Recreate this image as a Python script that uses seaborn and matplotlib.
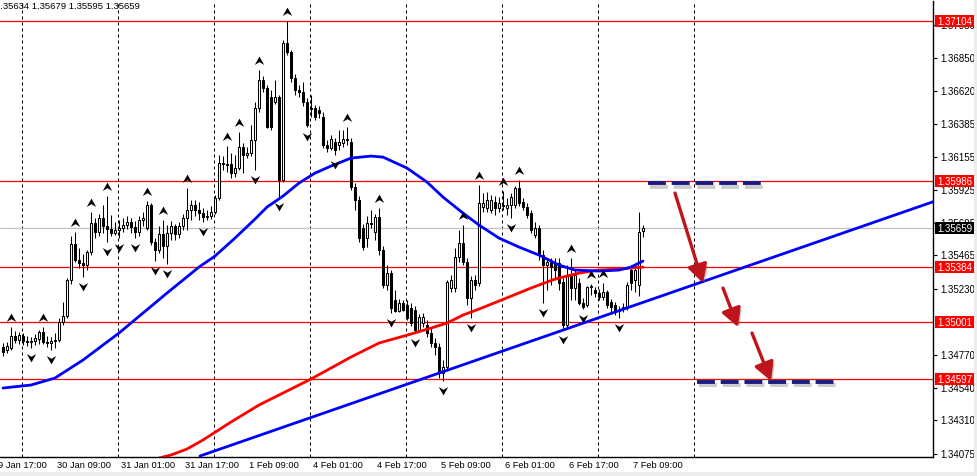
import numpy as np
import pandas as pd
import matplotlib
matplotlib.use("Agg")
import matplotlib.pyplot as plt
import seaborn as sns
from matplotlib.path import Path
import matplotlib.patheffects as pe
import matplotlib.transforms as mtransforms
from matplotlib.patches import Rectangle

sns.set_style("white")
plt.rcParams["font.family"] = ["Liberation Sans", "DejaVu Sans"]

# ---------------- data (EURUSD H1, bar index 0 = 29 Jan 19:00) ----------------
open_ = [1.34824, 1.34803, 1.34817, 1.34901, 1.34873, 1.34901, 1.34866, 1.34859, 1.34866, 1.34880,
         1.34929, 1.34859, 1.34852, 1.34866, 1.34873, 1.34999, 1.35041, 1.35293, 1.35545, 1.35433,
         1.35412, 1.35398, 1.35489, 1.35692, 1.35629, 1.35727, 1.35671, 1.35650, 1.35622, 1.35643,
         1.35657, 1.35678, 1.35699, 1.35664, 1.35629, 1.35713, 1.35657, 1.35818, 1.35559, 1.35503,
         1.35615, 1.35531, 1.35622, 1.35671, 1.35615, 1.35671, 1.35727, 1.35783, 1.35818, 1.35783,
         1.35762, 1.35734, 1.35741, 1.35769, 1.35867, 1.36112, 1.36105, 1.36105, 1.36042, 1.36077,
         1.36224, 1.36168, 1.36182, 1.36273, 1.36497, 1.36693, 1.36637, 1.36574, 1.36539, 1.36574,
         1.35993, 1.36952, 1.36889, 1.36707, 1.36623, 1.36609, 1.36539, 1.36497, 1.36497, 1.36483,
         1.36434, 1.36238, 1.36217, 1.36259, 1.36238, 1.36252, 1.36280, 1.36259, 1.35944, 1.35853,
         1.35657, 1.35587, 1.35692, 1.35629, 1.35734, 1.35503, 1.35258, 1.35342, 1.35153, 1.35076,
         1.35132, 1.35118, 1.35097, 1.35083, 1.34943, 1.34992, 1.34978, 1.34922, 1.34852, 1.34824,
         1.34642, 1.34684, 1.35237, 1.35237, 1.35454, 1.35552, 1.35419, 1.35167, 1.35293, 1.35272,
         1.35804, 1.35797, 1.35783, 1.35839, 1.35797, 1.35818, 1.35797, 1.35818, 1.35818, 1.35937,
         1.35839, 1.35804, 1.35762, 1.35608, 1.35657, 1.35468, 1.35398, 1.35419, 1.35412, 1.35412,
         1.35279, 1.34978, 1.35328, 1.35237, 1.35272, 1.35132, 1.35118, 1.35244, 1.35223, 1.35202,
         1.35174, 1.35209, 1.35139, 1.35118, 1.35083, 1.35097, 1.35104, 1.35363, 1.35293, 1.35258,
         1.35634]
high = [1.34852, 1.34859, 1.34964, 1.34936, 1.34929, 1.34922, 1.34901, 1.34894, 1.34915, 1.34943,
        1.34964, 1.34901, 1.34894, 1.34922, 1.35027, 1.35139, 1.35307, 1.35601, 1.35629, 1.35517,
        1.35475, 1.35503, 1.35769, 1.35727, 1.35755, 1.35818, 1.35881, 1.35748, 1.35699, 1.35713,
        1.35727, 1.35741, 1.35727, 1.35706, 1.35741, 1.35769, 1.35846, 1.35832, 1.35587, 1.35671,
        1.35713, 1.35678, 1.35706, 1.35685, 1.35699, 1.35755, 1.35937, 1.35853, 1.35853, 1.35839,
        1.35797, 1.35783, 1.35811, 1.35888, 1.36168, 1.36161, 1.36231, 1.36182, 1.36168, 1.36329,
        1.36252, 1.36224, 1.36378, 1.36539, 1.36763, 1.36721, 1.36658, 1.36623, 1.36693, 1.36588,
        1.36973, 1.37104, 1.36903, 1.36735, 1.36658, 1.36679, 1.36567, 1.36588, 1.36518, 1.36511,
        1.36469, 1.36273, 1.36308, 1.36287, 1.36343, 1.36343, 1.36364, 1.36287, 1.35972, 1.35881,
        1.35685, 1.35741, 1.35783, 1.35755, 1.35797, 1.35531, 1.35398, 1.35363, 1.35223, 1.35160,
        1.35153, 1.35153, 1.35132, 1.35111, 1.35055, 1.35062, 1.35013, 1.34957, 1.34887, 1.34852,
        1.34733, 1.35293, 1.35328, 1.35517, 1.35643, 1.35678, 1.35447, 1.35321, 1.35328, 1.35958,
        1.35902, 1.35909, 1.35888, 1.35881, 1.35874, 1.35916, 1.35867, 1.35902, 1.35951, 1.35993,
        1.35867, 1.35832, 1.35783, 1.35699, 1.35678, 1.35503, 1.35447, 1.35447, 1.35447, 1.35447,
        1.35307, 1.35398, 1.35447, 1.35363, 1.35307, 1.35167, 1.35251, 1.35265, 1.35244, 1.35230,
        1.35272, 1.35223, 1.35160, 1.35139, 1.35111, 1.35132, 1.35279, 1.35398, 1.35398, 1.35769,
        1.35679]
low = [1.34761, 1.34782, 1.34803, 1.34852, 1.34845, 1.34838, 1.34831, 1.34817, 1.34838, 1.34845,
       1.34845, 1.34824, 1.34803, 1.34817, 1.34859, 1.34978, 1.35027, 1.35265, 1.35419, 1.35377,
       1.35314, 1.35363, 1.35468, 1.35587, 1.35601, 1.35622, 1.35559, 1.35601, 1.35608, 1.35587,
       1.35629, 1.35650, 1.35622, 1.35587, 1.35601, 1.35671, 1.35643, 1.35538, 1.35426, 1.35482,
       1.35447, 1.35405, 1.35573, 1.35573, 1.35587, 1.35643, 1.35643, 1.35713, 1.35741, 1.35713,
       1.35699, 1.35713, 1.35720, 1.35755, 1.35853, 1.36063, 1.36049, 1.36007, 1.36014, 1.36063,
       1.36042, 1.36147, 1.36161, 1.36063, 1.36469, 1.36609, 1.36357, 1.36343, 1.36525, 1.35874,
       1.35979, 1.36868, 1.36679, 1.36588, 1.36574, 1.36511, 1.36364, 1.36434, 1.36413, 1.36427,
       1.36217, 1.36189, 1.36203, 1.36168, 1.36203, 1.36224, 1.36238, 1.35923, 1.35783, 1.35559,
       1.35503, 1.35524, 1.35657, 1.35573, 1.35468, 1.35237, 1.35223, 1.35062, 1.35069, 1.35069,
       1.35076, 1.35013, 1.34971, 1.34922, 1.34929, 1.34964, 1.34894, 1.34824, 1.34768, 1.34607,
       1.34586, 1.34663, 1.35209, 1.35209, 1.35419, 1.35398, 1.35118, 1.35027, 1.35223, 1.35251,
       1.35769, 1.35769, 1.35762, 1.35748, 1.35769, 1.35783, 1.35748, 1.35727, 1.35797, 1.35811,
       1.35783, 1.35727, 1.35622, 1.35587, 1.35433, 1.35132, 1.35223, 1.35258, 1.35293, 1.35223,
       1.34943, 1.34957, 1.35153, 1.35153, 1.35118, 1.35090, 1.35104, 1.35188, 1.35174, 1.35153,
       1.35153, 1.35097, 1.35069, 1.35048, 1.35027, 1.35069, 1.35083, 1.35223, 1.35209, 1.35181,
       1.35595]
close = [1.34789, 1.34831, 1.34901, 1.34873, 1.34908, 1.34866, 1.34859, 1.34866, 1.34887, 1.34929,
         1.34859, 1.34852, 1.34866, 1.34873, 1.34999, 1.35041, 1.35293, 1.35545, 1.35433, 1.35412,
         1.35398, 1.35489, 1.35692, 1.35629, 1.35727, 1.35671, 1.35650, 1.35622, 1.35643, 1.35657,
         1.35678, 1.35699, 1.35664, 1.35629, 1.35713, 1.35727, 1.35818, 1.35559, 1.35503, 1.35615,
         1.35531, 1.35622, 1.35671, 1.35615, 1.35671, 1.35727, 1.35783, 1.35818, 1.35783, 1.35762,
         1.35734, 1.35741, 1.35769, 1.35867, 1.36112, 1.36105, 1.36098, 1.36042, 1.36077, 1.36224,
         1.36168, 1.36182, 1.36273, 1.36497, 1.36693, 1.36637, 1.36364, 1.36364, 1.36574, 1.35993,
         1.36952, 1.36889, 1.36707, 1.36623, 1.36609, 1.36539, 1.36378, 1.36490, 1.36434, 1.36462,
         1.36238, 1.36217, 1.36280, 1.36203, 1.36259, 1.36280, 1.36273, 1.35944, 1.35853, 1.35587,
         1.35524, 1.35692, 1.35685, 1.35734, 1.35503, 1.35258, 1.35342, 1.35097, 1.35076, 1.35132,
         1.35083, 1.35027, 1.34992, 1.34943, 1.35034, 1.35034, 1.34922, 1.34852, 1.34824, 1.34642,
         1.34684, 1.35279, 1.35293, 1.35454, 1.35552, 1.35419, 1.35167, 1.35293, 1.35258, 1.35832,
         1.35832, 1.35853, 1.35853, 1.35797, 1.35832, 1.35811, 1.35818, 1.35874, 1.35937, 1.35832,
         1.35804, 1.35748, 1.35643, 1.35657, 1.35468, 1.35398, 1.35419, 1.35384, 1.35363, 1.35272,
         1.34978, 1.35328, 1.35237, 1.35328, 1.35132, 1.35104, 1.35244, 1.35251, 1.35202, 1.35174,
         1.35209, 1.35118, 1.35104, 1.35083, 1.35076, 1.35104, 1.35258, 1.35272, 1.35363, 1.35629,
         1.35659]

up_fractal_bars = [2, 10, 18, 22, 26, 36, 40, 46, 56, 59, 64, 71, 86, 94, 115, 119, 125, 129, 142, 147, 150]
down_fractal_bars = [7, 12, 20, 26, 29, 33, 38, 41, 50, 63, 69, 76, 83, 97, 103, 110, 117, 127, 135, 140, 145, 154]

blue_ma_bars = [0, 7, 13, 20, 29, 41, 49, 53, 58, 63, 66, 70, 74, 78, 82, 87, 92, 95, 101, 106,
                110, 115, 119, 124, 129, 134, 139, 143, 149, 154, 157, 160]
blue_ma = [1.34537, 1.34558, 1.34607, 1.34733, 1.34922, 1.35202, 1.35384, 1.35461, 1.35587, 1.35720,
           1.35804, 1.35881, 1.35972, 1.36042, 1.36091, 1.36147, 1.36161, 1.36154, 1.36077, 1.35979,
           1.35874, 1.35762, 1.35678, 1.35587, 1.35524, 1.35468, 1.35398, 1.35363, 1.35356, 1.35363,
           1.35384, 1.35426]
red_ma_bars = [37, 40, 42, 46, 50, 57, 64, 71, 77, 82, 87, 94, 102, 107, 111, 115, 119, 124, 132,
               138, 144, 149, 154, 160]
red_ma = [1.34030, 1.34054, 1.34068, 1.34110, 1.34173, 1.34299, 1.34418, 1.34516, 1.34600, 1.34677,
          1.34754, 1.34852, 1.34915, 1.34957, 1.34992, 1.35048, 1.35090, 1.35146, 1.35237, 1.35300,
          1.35342, 1.35363, 1.35370, 1.35384]

trend_bars = [49.25, 232.5]
trend_price = [1.34061, 1.35841]

levels = [1.37104, 1.35986, 1.35384, 1.35001, 1.34597]
current_price = 1.35659
ohlc_text = "1.35634 1.35679 1.35595 1.35659"

target_lines = [(161.25, 190.75, 1.35972), (173.5, 208.25, 1.34579)]
arrows = [((168.0, 1.35902), (175.0, 1.35272)),
          ((180.0, 1.35237), (183.75, 1.34964)),
          ((187.25, 1.34922), (192.0, 1.34586))]

ytick_values = [1.34075, 1.34310, 1.34540, 1.34770, 1.35230, 1.35465, 1.35695,
                1.35925, 1.36155, 1.36385, 1.36620, 1.36850, 1.37080]
xtick_bars = [-2, 14, 30, 46, 62, 78, 94, 110, 126, 142, 158]
xtick_labels = ["29 Jan 17:00", "30 Jan 09:00", "31 Jan 01:00", "31 Jan 17:00", "1 Feb 09:00",
                "4 Feb 01:00", "4 Feb 17:00", "5 Feb 09:00", "6 Feb 01:00", "6 Feb 17:00", "7 Feb 09:00"]
day_start_bars = [5, 29, 53, 77, 101, 125, 149, 173]

# ---------------- figure ----------------
W, H = 977, 476
fig = plt.figure(figsize=(W / 100, H / 100), dpi=100)
fig.patch.set_facecolor("white")
ax = fig.add_axes([0, 19 / H, 933 / W, 456 / H])
ax.set_facecolor("white")
ax.set_xlim(-0.75, 232.5)
ax.set_ylim(1.34054, 1.37247)

df = pd.DataFrame({"bar": np.arange(len(close)), "open": open_, "high": high,
                   "low": low, "close": close})

# separators, levels
for k in day_start_bars:
    ax.axvline(k - 0.25, color="black", lw=0.72, ls=(0, (3, 3)), zorder=1)
ax.axhline(current_price, color="#c0c0c0", lw=0.9, zorder=1)
for lv in levels:
    ax.axhline(lv, color="#ff0000", lw=0.9, zorder=2)

# candles
ax.vlines(df["bar"], df["low"], df["high"], color="black", lw=0.75, zorder=3)
bull = df["close"] >= df["open"]
body_h = np.maximum((df["close"] - df["open"]).abs(), 1e-7)
ax.bar(df["bar"], body_h, bottom=np.minimum(df["open"], df["close"]), width=0.5,
       color=np.where(bull, "white", "black"), edgecolor="black", linewidth=0.75, zorder=4)

# moving averages & trend line
sns.lineplot(x=red_ma_bars, y=red_ma, color="#ff0000", lw=2, ax=ax, zorder=5, sort=False, estimator=None)
sns.lineplot(x=blue_ma_bars, y=blue_ma, color="#0000ff", lw=2, ax=ax, zorder=6, sort=False, estimator=None)
sns.lineplot(x=trend_bars, y=trend_price, color="#0000ff", lw=2, ax=ax, zorder=6, sort=False, estimator=None)

# fractal arrows
up_path = Path([(0, 1.0), (0.34, 0.40), (0, 0.60), (-0.34, 0.40), (0, 1.0)],
               [Path.MOVETO, Path.LINETO, Path.LINETO, Path.LINETO, Path.CLOSEPOLY])
down_path = Path([(0, -1.0), (0.34, -0.40), (0, -0.60), (-0.34, -0.40), (0, -1.0)],
                 [Path.MOVETO, Path.LINETO, Path.LINETO, Path.LINETO, Path.CLOSEPOLY])
hi = np.array(high); lo = np.array(low)
ax.scatter(up_fractal_bars, hi[up_fractal_bars], marker=up_path, s=20 ** 2, c="black",
           linewidths=0, zorder=7)
ax.scatter(down_fractal_bars, lo[down_fractal_bars], marker=down_path, s=20 ** 2, c="black",
           linewidths=0, zorder=7)

# target dashed lines
for ks, ke, lv in target_lines:
    ax.plot([ks, ke], [lv, lv], color="#1c1c80", lw=2.8, ls=(0, (4.6, 1.5)),
            dash_capstyle="butt", zorder=8,
            path_effects=[pe.SimpleLineShadow(offset=(1.5, -2.5), shadow_color="#999999", alpha=0.5),
                          pe.Normal()])

# red arrows
for (x0, y0), (x1, y1) in arrows:
    ax.annotate("", xy=(x1, y1), xytext=(x0, y0), zorder=8,
                arrowprops=dict(arrowstyle="-|>,head_length=0.55,head_width=0.3", color="#c0141c",
                                lw=2.4, shrinkA=0, shrinkB=0, mutation_scale=20,
                                path_effects=[pe.SimplePatchShadow(offset=(2, -2), shadow_rgbFace="#777777", alpha=0.4),
                                              pe.Normal()]))

# axes styling
for s in ["top", "left"]:
    ax.spines[s].set_visible(False)
for s in ["right", "bottom"]:
    ax.spines[s].set_color("black")
    ax.spines[s].set_linewidth(1.0)
ax.yaxis.tick_right()
ax.set_yticks(ytick_values)
ax.set_yticklabels([f"{v:.5f}" for v in ytick_values])
ax.tick_params(axis="y", direction="out", length=3, width=0.8, pad=2, labelsize=7, colors="black")
in_range = [k for k in xtick_bars if k >= 0]
ax.set_xticks([k - 0.25 for k in in_range])
ax.set_xticklabels([""] * len(in_range))
ax.tick_params(axis="x", direction="out", length=4, width=0.8, colors="black")
ax.set_xlabel(""); ax.set_ylabel("")

xt = mtransforms.blended_transform_factory(ax.transData, ax.transAxes)
for k, lab in zip(xtick_bars, xtick_labels):
    ax.text(k - 0.45, -9 / 456, lab, transform=xt, ha="left", va="center", fontsize=6.7,
            color="black", clip_on=False)

# price labels on the right
yt = mtransforms.blended_transform_factory(fig.transFigure, ax.transData)
box_h = 12 * (1.37247 - 1.34054) / 456
for lv, fc in [(v, "#ff0000") for v in levels] + [(current_price, "black")]:
    ax.add_patch(Rectangle((935 / W, lv - box_h / 2), 39 / W, box_h, transform=yt,
                           facecolor=fc, edgecolor="none", clip_on=False, zorder=10))
    ax.text(937.5 / W, lv, f"{lv:.5f}", transform=yt, ha="left", va="center_baseline", fontsize=7,
            color="white", clip_on=False, zorder=11)

fig.text(-5 / W, 1 - 6.5 / H, ohlc_text, ha="left", va="center", fontsize=6.8, color="black")

# window border strips
fig.patches.append(Rectangle((974 / W, 0), 3 / W, 1, transform=fig.transFigure,
                             facecolor="#ececec", edgecolor="none"))
fig.patches.append(Rectangle((0, 0), 1, 4 / H, transform=fig.transFigure,
                             facecolor="#ececec", edgecolor="none"))

fig.savefig("out.png", dpi=100)
